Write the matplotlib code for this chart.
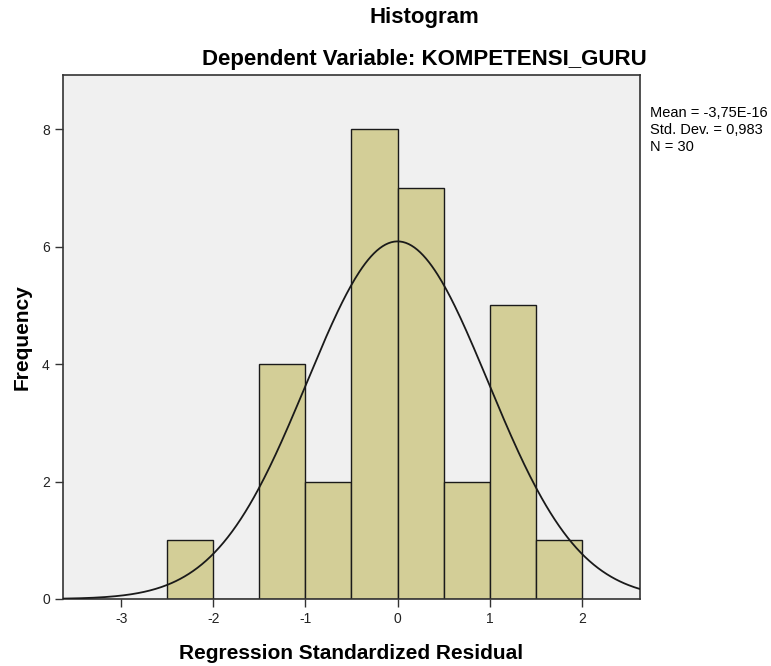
import numpy as np
import matplotlib
matplotlib.use("Agg")
import matplotlib.pyplot as plt

bin_edges = [-2.5, -2.0, -1.5, -1.0, -0.5, 0.0, 0.5, 1.0, 1.5, 2.0]
counts = [1, 0, 4, 2, 8, 7, 2, 5, 1]
mean_val = -3.75e-16
std_val = 0.983
n_val = 30
x_ticks = [-3, -2, -1, 0, 1, 2]
y_ticks = [0, 2, 4, 6, 8]

plt.rcParams['font.family'] = ['Liberation Sans', 'DejaVu Sans']

fig = plt.figure(figsize=(7.71, 6.66), dpi=100)
W, H = 771, 666
L, R, T, B = 63, 640, 75, 599
ax = fig.add_axes([L / W, 1 - B / H, (R - L) / W, (B - T) / H])
ax.set_facecolor('#f0f0f0')

lefts = bin_edges[:-1]
widths = np.diff(bin_edges)
ax.bar(lefts, counts, width=widths, align='edge', color='#d3ce97',
       edgecolor='#1a1a1a', linewidth=1.0, zorder=2)

xmin, xmax = -3.63, 2.63
xs = np.linspace(xmin, xmax, 400)
bw = 0.5
ys = n_val * bw / (std_val * np.sqrt(2 * np.pi)) * np.exp(-0.5 * ((xs - mean_val) / std_val) ** 2)
ax.plot(xs, ys, color='#1a1a1a', linewidth=1.3, zorder=3)

ax.set_xlim(xmin, xmax)
ax.set_ylim(0, 8.92)
ax.set_xticks(x_ticks)
ax.set_xticklabels([str(t) for t in x_ticks])
ax.set_yticks(y_ticks)
ax.tick_params(direction='out', length=6, width=1, colors='#333333',
               labelsize=10, labelcolor='#222222')
for s in ax.spines.values():
    s.set_color('#333333')
    s.set_linewidth(1.2)

ax.set_xlabel('Regression Standardized Residual', fontsize=15, fontweight='bold',
              labelpad=13)
fig.text(22 / W, 1 - 337 / H, 'Frequency', rotation=90, ha='center', va='center',
         fontsize=15, fontweight='bold')

fig.text(424 / W, 1 - 18 / H, 'Histogram', ha='center', va='center',
         fontsize=16, fontweight='bold')
fig.text(424 / W, 1 - 60 / H, 'Dependent Variable: KOMPETENSI_GURU', ha='center',
         va='center', fontsize=16, fontweight='bold')

fig.text(650 / W, 1 - 130 / H, 'Mean = -3,75E-16\nStd. Dev. = 0,983\nN = 30',
         ha='left', va='center', fontsize=10.5, linespacing=1.25)

fig.savefig('out.png', dpi=100, facecolor='white')
